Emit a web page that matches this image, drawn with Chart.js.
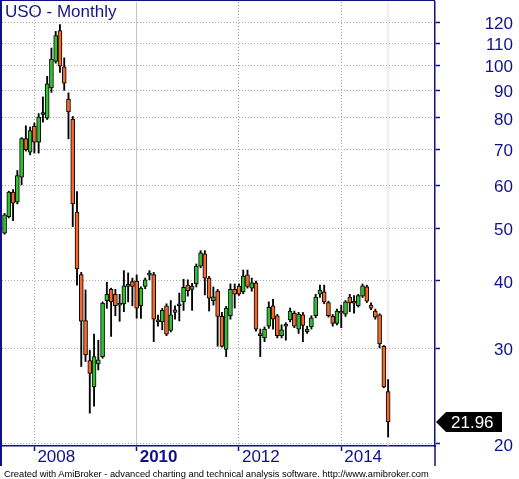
<!DOCTYPE html>
<html>
<head>
<meta charset="utf-8">
<title>USO - Monthly</title>
<script src="https://cdn.jsdelivr.net/npm/chart.js@4.4.1/dist/chart.umd.min.js"></script>
<style>
  html, body { margin: 0; padding: 0; background: #fff; }
  #wrap { position: relative; width: 519px; height: 479px; overflow: hidden; }
  #myChart { display: block; }
  #title { position: absolute; left: 5px; top: 2px; font: 17px "Liberation Sans", Arial, sans-serif; line-height: 20px; color: #14148c; }
  #foot { position: absolute; left: 4px; top: 469px; font: 9.3px "Liberation Sans", Arial, sans-serif; line-height: 10px; color: #000; white-space: nowrap; }
</style>
</head>
<body>
<div id="wrap">
  <canvas id="myChart" width="519" height="479"></canvas>
  <div id="title">USO - Monthly</div>
  <div id="foot">Created with AmiBroker - advanced charting and technical analysis software. http://www.amibroker.com</div>
</div>
<script>
// monthly bars, Jun 2007 .. Dec 2014
let months = [
  '2007-06', '2007-07', '2007-08', '2007-09', '2007-10', '2007-11', '2007-12',
  '2008-01', '2008-02', '2008-03', '2008-04', '2008-05', '2008-06', '2008-07', '2008-08', '2008-09', '2008-10', '2008-11', '2008-12',
  '2009-01', '2009-02', '2009-03', '2009-04', '2009-05', '2009-06', '2009-07', '2009-08', '2009-09', '2009-10', '2009-11', '2009-12',
  '2010-01', '2010-02', '2010-03', '2010-04', '2010-05', '2010-06', '2010-07', '2010-08', '2010-09', '2010-10', '2010-11', '2010-12',
  '2011-01', '2011-02', '2011-03', '2011-04', '2011-05', '2011-06', '2011-07', '2011-08', '2011-09', '2011-10', '2011-11', '2011-12',
  '2012-01', '2012-02', '2012-03', '2012-04', '2012-05', '2012-06', '2012-07', '2012-08', '2012-09', '2012-10', '2012-11', '2012-12',
  '2013-01', '2013-02', '2013-03', '2013-04', '2013-05', '2013-06', '2013-07', '2013-08', '2013-09', '2013-10', '2013-11', '2013-12',
  '2014-01', '2014-02', '2014-03', '2014-04', '2014-05', '2014-06', '2014-07', '2014-08', '2014-09', '2014-10', '2014-11', '2014-12'
];
let opens = [
  49.0, 52.6, 58.4, 55.9, 62.2, 73.3, 69.2,
  77.3, 72.2, 81.2, 79.9, 90.9, 101.8, 116.0, 99.4, 86.7, 79.6, 53.6, 41.1,
  33.8, 28.5, 25.5, 28.1, 29.0, 36.8, 38.6, 37.8, 36.1, 36.3, 39.1, 39.9,
  40.0, 36.0, 39.1, 41.0, 41.1, 33.6, 33.6, 36.0, 32.4, 35.4, 36.0, 36.6,
  39.3, 38.6, 39.5, 42.6, 44.9, 40.5, 36.8, 38.3, 34.4, 29.9, 34.5, 38.6,
  39.15, 38.2, 41.05, 38.8, 39.7, 31.75, 31.4, 33.0, 36.0, 34.5, 31.7, 33.0,
  33.9, 34.9, 32.6, 34.65, 32.25, 32.9, 34.5, 37.8, 38.2, 36.5, 34.4, 33.4,
  35.0, 34.75, 37.35, 36.45, 36.0, 37.5, 39.0, 36.1, 35.2, 34.65, 30.3, 25.0
];
let highs = [
  53.3, 58.6, 59.0, 64.0, 73.6, 77.4, 77.0,
  78.3, 81.5, 87.5, 95.5, 107.7, 115.6, 119.0, 103.3, 89.0, 80.5, 58.5, 41.5,
  38.5, 29.8, 31.9, 31.1, 36.6, 39.8, 38.8, 38.6, 37.8, 41.8, 41.4, 40.5,
  41.05, 39.0, 40.5, 41.8, 41.5, 34.6, 35.6, 36.3, 36.8, 36.0, 38.0, 40.3,
  40.2, 39.6, 43.0, 45.5, 45.5, 40.8, 39.0, 38.6, 35.0, 35.9, 39.5, 39.5,
  39.5, 41.9, 41.9, 40.5, 40.0, 32.6, 32.9, 36.6, 37.0, 34.7, 33.2, 33.5,
  35.65, 35.2, 35.0, 35.0, 33.0, 34.5, 37.8, 39.3, 39.3, 36.7, 34.7, 35.5,
  36.1, 36.8, 37.8, 37.6, 37.8, 39.5, 39.3, 36.45, 35.5, 34.8, 30.4, 26.3
];
let lows = [
  48.8, 52.3, 51.7, 55.5, 60.2, 69.5, 68.4,
  68.9, 68.9, 78.6, 79.5, 89.2, 101.0, 97.1, 90.0, 73.2, 50.4, 39.3, 27.8,
  28.4, 22.8, 23.5, 27.4, 28.8, 35.6, 31.6, 34.5, 33.7, 35.1, 36.6, 36.0,
  34.15, 34.1, 38.7, 40.2, 30.9, 33.0, 32.5, 31.7, 32.2, 34.0, 33.75, 35.3,
  37.5, 35.3, 39.0, 42.3, 37.7, 35.2, 36.1, 30.3, 30.2, 29.0, 34.0, 35.65,
  37.6, 37.9, 38.8, 38.3, 32.3, 29.0, 30.9, 32.7, 32.6, 31.4, 31.4, 31.1,
  33.6, 32.8, 32.0, 30.9, 32.0, 32.6, 34.2, 37.3, 36.3, 34.3, 33.0, 33.2,
  32.8, 34.4, 35.1, 34.9, 35.8, 37.3, 36.5, 35.4, 34.0, 30.1, 25.4, 20.6
];
let closes = [
  53.0, 58.4, 55.7, 62.6, 73.3, 69.9, 75.8,
  72.2, 80.3, 81.4, 92.5, 102.8, 113.6, 99.7, 92.8, 82.1, 55.5, 42.1, 33.7,
  29.2, 27.0, 29.0, 28.6, 36.4, 37.8, 36.6, 36.0, 36.2, 39.2, 39.2, 39.1,
  35.65, 38.8, 40.2, 41.1, 34.0, 33.9, 35.3, 31.9, 34.65, 35.0, 36.05, 38.95,
  38.4, 39.15, 42.6, 45.1, 40.5, 37.2, 37.4, 34.4, 30.3, 35.65, 38.6, 37.8,
  37.8, 40.85, 39.1, 39.7, 32.6, 31.7, 32.6, 35.75, 34.0, 31.7, 32.5, 33.3,
  35.2, 33.0, 34.75, 33.1, 32.6, 34.2, 37.35, 38.5, 36.6, 34.5, 33.4, 35.2,
  34.9, 36.6, 36.45, 36.4, 37.6, 39.2, 36.7, 35.65, 34.3, 30.6, 25.5, 21.96
];
let yearLabels = ['2008', '2010', '2012', '2014'];
let boldYear = '2010';
let priceTicks = [20, 30, 40, 50, 60, 70, 80, 90, 100, 110, 120];
let lastPrice = 21.96;

let navy = '#10108c';
let upColor = '#2fc42f';
let downColor = '#f5692a';
let fontFamily = '"Liberation Sans", Arial, sans-serif';

let yearPos = yearLabels.map(y => months.indexOf(y + '-01'));

let wicks = months.map((m, i) => ({ x: i, y: [lows[i], highs[i]] }));
let bodies = months.map((m, i) => ({ x: i, y: [Math.min(opens[i], closes[i]), Math.max(opens[i], closes[i])] }));
let bodyColors = months.map((m, i) => closes[i] >= opens[i] ? upColor : downColor);

function isBoldTick(c) {
  return c.tick && yearLabels[yearPos.indexOf(c.tick.value)] === boldYear;
}

// no extra room for half labels at the ends of the axes
function noEdgePadding(s) {
  s.paddingTop = 0;
  s.paddingBottom = 0;
  s.paddingLeft = 0;
  s.paddingRight = 0;
}

// frame lines, last bar marker line and the last price tag
let framePlugin = {
  id: 'frame',
  beforeDatasetsDraw(chart) {
    let { ctx, chartArea, scales } = chart;
    let x = scales.x.getPixelForValue(months.length - 1);
    ctx.save();
    ctx.strokeStyle = '#f4d6d6';
    ctx.lineWidth = 1;
    ctx.beginPath();
    ctx.moveTo(x, chartArea.top);
    ctx.lineTo(x, chartArea.bottom);
    ctx.stroke();
    ctx.restore();
  },
  afterDraw(chart) {
    let { ctx, chartArea, scales } = chart;
    ctx.save();
    ctx.fillStyle = navy;
    ctx.fillRect(0, 0, 2, 466);
    ctx.fillRect(0, 0, chartArea.right, 1);
    ctx.fillRect(chartArea.right - 0.75, chartArea.bottom, 1.5, 20);

    let y = scales.y.getPixelForValue(lastPrice);
    let x0 = chartArea.right + 1;
    ctx.fillStyle = '#000';
    ctx.beginPath();
    ctx.moveTo(x0, y);
    ctx.lineTo(x0 + 10, y - 10);
    ctx.lineTo(x0 + 66, y - 10);
    ctx.lineTo(x0 + 66, y + 10);
    ctx.lineTo(x0 + 10, y + 10);
    ctx.closePath();
    ctx.fill();
    ctx.fillStyle = '#fff';
    ctx.font = '17px ' + fontFamily;
    ctx.textBaseline = 'middle';
    ctx.fillText(lastPrice.toFixed(2), x0 + 15, y + 1);
    ctx.restore();
  }
};

window.onload = function () {
  let ctx = document.getElementById('myChart').getContext('2d');

  window.myChart = new Chart(ctx, {
    type: 'bar',
    data: {
      datasets: [
        {
          label: 'Body',
          data: bodies,
          backgroundColor: bodyColors,
          borderColor: '#000',
          borderWidth: 1,
          borderSkipped: false,
          barThickness: 4,
          minBarLength: 2,
          grouped: false,
          order: 0
        },
        {
          label: 'Wick',
          data: wicks,
          backgroundColor: '#000',
          borderWidth: 0,
          barThickness: 1.2,
          grouped: false,
          order: 1
        }
      ]
    },
    plugins: [framePlugin],
    options: {
      responsive: false,
      animation: false,
      layout: { padding: { left: 2, top: 2, right: 6, bottom: 14 } },
      plugins: {
        legend: { display: false },
        tooltip: { enabled: false }
      },
      scales: {
        x: {
          type: 'linear',
          offset: false,
          min: -0.6,
          max: 101,
          afterBuildTicks: s => { s.ticks = yearPos.map(v => ({ value: v })); },
          afterFit: s => { s.height = 19; noEdgePadding(s); },
          ticks: {
            autoSkip: false,
            maxRotation: 0,
            align: 'start',
            labelOffset: 3,
            padding: -4,
            color: navy,
            font: c => ({ family: fontFamily, size: 17, weight: isBoldTick(c) ? 'bold' : 'normal' }),
            callback: v => yearLabels[yearPos.indexOf(v)]
          },
          grid: {
            offset: false,
            color: c => (c.tick && c.tick.value === yearPos[1]) ? '#c6c6c6' : '#a8a8a8',
            lineWidth: 1,
            tickColor: navy,
            tickLength: 5,
            tickWidth: 1.5,
            tickBorderDash: []
          },
          border: {
            color: navy,
            width: 1.5,
            dash: c => (c.tick && c.tick.value === yearPos[1]) ? [] : [1, 2]
          }
        },
        y: {
          type: 'logarithmic',
          position: 'right',
          min: 19.83,
          max: 131,
          afterBuildTicks: s => { s.ticks = priceTicks.map(v => ({ value: v })); },
          afterFit: s => { s.width = 78; noEdgePadding(s); },
          ticks: {
            autoSkip: false,
            crossAlign: 'far',
            labelOffset: 2,
            color: navy,
            font: { family: fontFamily, size: 17 },
            callback: v => String(v)
          },
          grid: {
            color: '#a8a8a8',
            lineWidth: 1,
            tickColor: navy,
            tickLength: 5,
            tickWidth: 1.5,
            tickBorderDash: []
          },
          border: {
            color: navy,
            width: 1.5,
            dash: [1, 2]
          }
        }
      }
    }
  });
};
</script>
</body>
</html>
